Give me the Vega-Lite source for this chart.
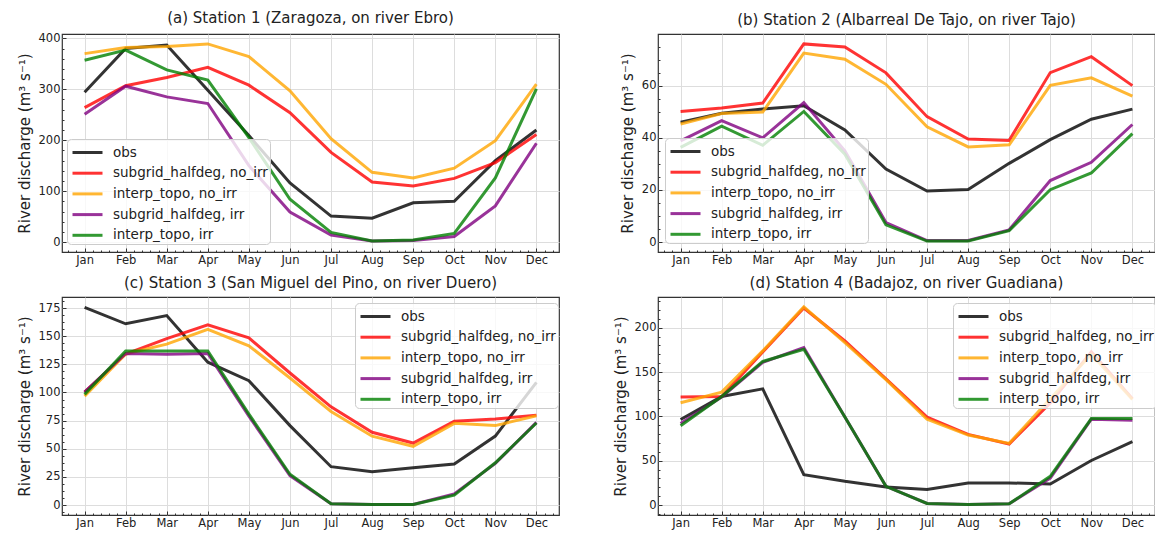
{
"$schema":"https://vega.github.io/schema/vega-lite/v6.json",
"autosize":{"type":"pad"},
"padding":{"left":16,"top":10,"right":0,"bottom":0},
"background":"white",
"datasets":{"d":[
{"station":1,"series":"obs","month":1,"value":294},{"station":1,"series":"obs","month":2,"value":380},{"station":1,"series":"obs","month":3,"value":387},{"station":1,"series":"obs","month":4,"value":298},{"station":1,"series":"obs","month":5,"value":209},{"station":1,"series":"obs","month":6,"value":116},{"station":1,"series":"obs","month":7,"value":51},{"station":1,"series":"obs","month":8,"value":47},{"station":1,"series":"obs","month":9,"value":77},{"station":1,"series":"obs","month":10,"value":80},{"station":1,"series":"obs","month":11,"value":160},{"station":1,"series":"obs","month":12,"value":220},
{"station":1,"series":"subgrid_halfdeg, no_irr","month":1,"value":264},{"station":1,"series":"subgrid_halfdeg, no_irr","month":2,"value":307},{"station":1,"series":"subgrid_halfdeg, no_irr","month":3,"value":323},{"station":1,"series":"subgrid_halfdeg, no_irr","month":4,"value":343},{"station":1,"series":"subgrid_halfdeg, no_irr","month":5,"value":308},{"station":1,"series":"subgrid_halfdeg, no_irr","month":6,"value":254},{"station":1,"series":"subgrid_halfdeg, no_irr","month":7,"value":176},{"station":1,"series":"subgrid_halfdeg, no_irr","month":8,"value":118},{"station":1,"series":"subgrid_halfdeg, no_irr","month":9,"value":110},{"station":1,"series":"subgrid_halfdeg, no_irr","month":10,"value":125},{"station":1,"series":"subgrid_halfdeg, no_irr","month":11,"value":156},{"station":1,"series":"subgrid_halfdeg, no_irr","month":12,"value":211},
{"station":1,"series":"interp_topo, no_irr","month":1,"value":370},{"station":1,"series":"interp_topo, no_irr","month":2,"value":382},{"station":1,"series":"interp_topo, no_irr","month":3,"value":384},{"station":1,"series":"interp_topo, no_irr","month":4,"value":389},{"station":1,"series":"interp_topo, no_irr","month":5,"value":364},{"station":1,"series":"interp_topo, no_irr","month":6,"value":297},{"station":1,"series":"interp_topo, no_irr","month":7,"value":203},{"station":1,"series":"interp_topo, no_irr","month":8,"value":137},{"station":1,"series":"interp_topo, no_irr","month":9,"value":126},{"station":1,"series":"interp_topo, no_irr","month":10,"value":145},{"station":1,"series":"interp_topo, no_irr","month":11,"value":199},{"station":1,"series":"interp_topo, no_irr","month":12,"value":310},
{"station":1,"series":"subgrid_halfdeg, irr","month":1,"value":251},{"station":1,"series":"subgrid_halfdeg, irr","month":2,"value":306},{"station":1,"series":"subgrid_halfdeg, irr","month":3,"value":285},{"station":1,"series":"subgrid_halfdeg, irr","month":4,"value":272},{"station":1,"series":"subgrid_halfdeg, irr","month":5,"value":150},{"station":1,"series":"subgrid_halfdeg, irr","month":6,"value":59},{"station":1,"series":"subgrid_halfdeg, irr","month":7,"value":14},{"station":1,"series":"subgrid_halfdeg, irr","month":8,"value":2},{"station":1,"series":"subgrid_halfdeg, irr","month":9,"value":3},{"station":1,"series":"subgrid_halfdeg, irr","month":10,"value":11},{"station":1,"series":"subgrid_halfdeg, irr","month":11,"value":71},{"station":1,"series":"subgrid_halfdeg, irr","month":12,"value":194},
{"station":1,"series":"interp_topo, irr","month":1,"value":357},{"station":1,"series":"interp_topo, irr","month":2,"value":377},{"station":1,"series":"interp_topo, irr","month":3,"value":338},{"station":1,"series":"interp_topo, irr","month":4,"value":318},{"station":1,"series":"interp_topo, irr","month":5,"value":205},{"station":1,"series":"interp_topo, irr","month":6,"value":84},{"station":1,"series":"interp_topo, irr","month":7,"value":19},{"station":1,"series":"interp_topo, irr","month":8,"value":2},{"station":1,"series":"interp_topo, irr","month":9,"value":4},{"station":1,"series":"interp_topo, irr","month":10,"value":17},{"station":1,"series":"interp_topo, irr","month":11,"value":126},{"station":1,"series":"interp_topo, irr","month":12,"value":301},
{"station":2,"series":"obs","month":1,"value":46},{"station":2,"series":"obs","month":2,"value":49.4},{"station":2,"series":"obs","month":3,"value":51},{"station":2,"series":"obs","month":4,"value":52.3},{"station":2,"series":"obs","month":5,"value":43},{"station":2,"series":"obs","month":6,"value":28},{"station":2,"series":"obs","month":7,"value":19.6},{"station":2,"series":"obs","month":8,"value":20.2},{"station":2,"series":"obs","month":9,"value":30.2},{"station":2,"series":"obs","month":10,"value":39.3},{"station":2,"series":"obs","month":11,"value":47.1},{"station":2,"series":"obs","month":12,"value":51},
{"station":2,"series":"subgrid_halfdeg, no_irr","month":1,"value":50.1},{"station":2,"series":"subgrid_halfdeg, no_irr","month":2,"value":51.4},{"station":2,"series":"subgrid_halfdeg, no_irr","month":3,"value":53.3},{"station":2,"series":"subgrid_halfdeg, no_irr","month":4,"value":76},{"station":2,"series":"subgrid_halfdeg, no_irr","month":5,"value":74.8},{"station":2,"series":"subgrid_halfdeg, no_irr","month":6,"value":64.9},{"station":2,"series":"subgrid_halfdeg, no_irr","month":7,"value":48.1},{"station":2,"series":"subgrid_halfdeg, no_irr","month":8,"value":39.5},{"station":2,"series":"subgrid_halfdeg, no_irr","month":9,"value":39},{"station":2,"series":"subgrid_halfdeg, no_irr","month":10,"value":65},{"station":2,"series":"subgrid_halfdeg, no_irr","month":11,"value":71.1},{"station":2,"series":"subgrid_halfdeg, no_irr","month":12,"value":60},
{"station":2,"series":"interp_topo, no_irr","month":1,"value":45.3},{"station":2,"series":"interp_topo, no_irr","month":2,"value":49.3},{"station":2,"series":"interp_topo, no_irr","month":3,"value":49.9},{"station":2,"series":"interp_topo, no_irr","month":4,"value":72.5},{"station":2,"series":"interp_topo, no_irr","month":5,"value":70.1},{"station":2,"series":"interp_topo, no_irr","month":6,"value":60.5},{"station":2,"series":"interp_topo, no_irr","month":7,"value":44.2},{"station":2,"series":"interp_topo, no_irr","month":8,"value":36.5},{"station":2,"series":"interp_topo, no_irr","month":9,"value":37.3},{"station":2,"series":"interp_topo, no_irr","month":10,"value":60.1},{"station":2,"series":"interp_topo, no_irr","month":11,"value":63},{"station":2,"series":"interp_topo, no_irr","month":12,"value":56},
{"station":2,"series":"subgrid_halfdeg, irr","month":1,"value":38.8},{"station":2,"series":"subgrid_halfdeg, irr","month":2,"value":46.6},{"station":2,"series":"subgrid_halfdeg, irr","month":3,"value":40},{"station":2,"series":"subgrid_halfdeg, irr","month":4,"value":53.5},{"station":2,"series":"subgrid_halfdeg, irr","month":5,"value":35},{"station":2,"series":"subgrid_halfdeg, irr","month":6,"value":7.5},{"station":2,"series":"subgrid_halfdeg, irr","month":7,"value":0.6},{"station":2,"series":"subgrid_halfdeg, irr","month":8,"value":0.6},{"station":2,"series":"subgrid_halfdeg, irr","month":9,"value":4.7},{"station":2,"series":"subgrid_halfdeg, irr","month":10,"value":23.6},{"station":2,"series":"subgrid_halfdeg, irr","month":11,"value":30.6},{"station":2,"series":"subgrid_halfdeg, irr","month":12,"value":45.1},
{"station":2,"series":"interp_topo, irr","month":1,"value":36.3},{"station":2,"series":"interp_topo, irr","month":2,"value":44.5},{"station":2,"series":"interp_topo, irr","month":3,"value":37.1},{"station":2,"series":"interp_topo, irr","month":4,"value":50.1},{"station":2,"series":"interp_topo, irr","month":5,"value":33.7},{"station":2,"series":"interp_topo, irr","month":6,"value":6.6},{"station":2,"series":"interp_topo, irr","month":7,"value":0.4},{"station":2,"series":"interp_topo, irr","month":8,"value":0.4},{"station":2,"series":"interp_topo, irr","month":9,"value":4.4},{"station":2,"series":"interp_topo, irr","month":10,"value":20.1},{"station":2,"series":"interp_topo, irr","month":11,"value":26.5},{"station":2,"series":"interp_topo, irr","month":12,"value":41.6},
{"station":3,"series":"obs","month":1,"value":175.6},{"station":3,"series":"obs","month":2,"value":161},{"station":3,"series":"obs","month":3,"value":168.3},{"station":3,"series":"obs","month":4,"value":126.9},{"station":3,"series":"obs","month":5,"value":110.5},{"station":3,"series":"obs","month":6,"value":70.6},{"station":3,"series":"obs","month":7,"value":34.1},{"station":3,"series":"obs","month":8,"value":29.7},{"station":3,"series":"obs","month":9,"value":33.2},{"station":3,"series":"obs","month":10,"value":36.5},{"station":3,"series":"obs","month":11,"value":61.3},{"station":3,"series":"obs","month":12,"value":109},
{"station":3,"series":"subgrid_halfdeg, no_irr","month":1,"value":100.3},{"station":3,"series":"subgrid_halfdeg, no_irr","month":2,"value":134.2},{"station":3,"series":"subgrid_halfdeg, no_irr","month":3,"value":147.9},{"station":3,"series":"subgrid_halfdeg, no_irr","month":4,"value":160.1},{"station":3,"series":"subgrid_halfdeg, no_irr","month":5,"value":148.5},{"station":3,"series":"subgrid_halfdeg, no_irr","month":6,"value":117.3},{"station":3,"series":"subgrid_halfdeg, no_irr","month":7,"value":87.2},{"station":3,"series":"subgrid_halfdeg, no_irr","month":8,"value":64.7},{"station":3,"series":"subgrid_halfdeg, no_irr","month":9,"value":55.1},{"station":3,"series":"subgrid_halfdeg, no_irr","month":10,"value":74.4},{"station":3,"series":"subgrid_halfdeg, no_irr","month":11,"value":76.4},{"station":3,"series":"subgrid_halfdeg, no_irr","month":12,"value":79.9},
{"station":3,"series":"interp_topo, no_irr","month":1,"value":96.8},{"station":3,"series":"interp_topo, no_irr","month":2,"value":134.2},{"station":3,"series":"interp_topo, no_irr","month":3,"value":142.9},{"station":3,"series":"interp_topo, no_irr","month":4,"value":156},{"station":3,"series":"interp_topo, no_irr","month":5,"value":141.5},{"station":3,"series":"interp_topo, no_irr","month":6,"value":112.9},{"station":3,"series":"interp_topo, no_irr","month":7,"value":83.1},{"station":3,"series":"interp_topo, no_irr","month":8,"value":61.2},{"station":3,"series":"interp_topo, no_irr","month":9,"value":52.2},{"station":3,"series":"interp_topo, no_irr","month":10,"value":72.6},{"station":3,"series":"interp_topo, no_irr","month":11,"value":70.6},{"station":3,"series":"interp_topo, no_irr","month":12,"value":79.3},
{"station":3,"series":"subgrid_halfdeg, irr","month":1,"value":100.3},{"station":3,"series":"subgrid_halfdeg, irr","month":2,"value":134.7},{"station":3,"series":"subgrid_halfdeg, irr","month":3,"value":133.9},{"station":3,"series":"subgrid_halfdeg, irr","month":4,"value":134.7},{"station":3,"series":"subgrid_halfdeg, irr","month":5,"value":79},{"station":3,"series":"subgrid_halfdeg, irr","month":6,"value":26.2},{"station":3,"series":"subgrid_halfdeg, irr","month":7,"value":1.2},{"station":3,"series":"subgrid_halfdeg, irr","month":8,"value":0.6},{"station":3,"series":"subgrid_halfdeg, irr","month":9,"value":0.6},{"station":3,"series":"subgrid_halfdeg, irr","month":10,"value":9.9},{"station":3,"series":"subgrid_halfdeg, irr","month":11,"value":37},{"station":3,"series":"subgrid_halfdeg, irr","month":12,"value":73.5},
{"station":3,"series":"interp_topo, irr","month":1,"value":98.3},{"station":3,"series":"interp_topo, irr","month":2,"value":136.8},{"station":3,"series":"interp_topo, irr","month":3,"value":136.8},{"station":3,"series":"interp_topo, irr","month":4,"value":136.8},{"station":3,"series":"interp_topo, irr","month":5,"value":80.8},{"station":3,"series":"interp_topo, irr","month":6,"value":27.4},{"station":3,"series":"interp_topo, irr","month":7,"value":1.2},{"station":3,"series":"interp_topo, irr","month":8,"value":0.6},{"station":3,"series":"interp_topo, irr","month":9,"value":0.6},{"station":3,"series":"interp_topo, irr","month":10,"value":8.8},{"station":3,"series":"interp_topo, irr","month":11,"value":37.6},{"station":3,"series":"interp_topo, irr","month":12,"value":72.9},
{"station":4,"series":"obs","month":1,"value":96.5},{"station":4,"series":"obs","month":2,"value":122.5},{"station":4,"series":"obs","month":3,"value":131.1},{"station":4,"series":"obs","month":4,"value":34.3},{"station":4,"series":"obs","month":5,"value":26.8},{"station":4,"series":"obs","month":6,"value":20.5},{"station":4,"series":"obs","month":7,"value":17.5},{"station":4,"series":"obs","month":8,"value":25},{"station":4,"series":"obs","month":9,"value":25},{"station":4,"series":"obs","month":10,"value":23.8},{"station":4,"series":"obs","month":11,"value":50.3},{"station":4,"series":"obs","month":12,"value":71.5},
{"station":4,"series":"subgrid_halfdeg, no_irr","month":1,"value":121.8},{"station":4,"series":"subgrid_halfdeg, no_irr","month":2,"value":122.5},{"station":4,"series":"subgrid_halfdeg, no_irr","month":3,"value":172.8},{"station":4,"series":"subgrid_halfdeg, no_irr","month":4,"value":222.3},{"station":4,"series":"subgrid_halfdeg, no_irr","month":5,"value":185.1},{"station":4,"series":"subgrid_halfdeg, no_irr","month":6,"value":142.3},{"station":4,"series":"subgrid_halfdeg, no_irr","month":7,"value":99.1},{"station":4,"series":"subgrid_halfdeg, no_irr","month":8,"value":79.7},{"station":4,"series":"subgrid_halfdeg, no_irr","month":9,"value":68.9},{"station":4,"series":"subgrid_halfdeg, no_irr","month":10,"value":115},{"station":4,"series":"subgrid_halfdeg, no_irr","month":11,"value":172.8},{"station":4,"series":"subgrid_halfdeg, no_irr","month":12,"value":120},
{"station":4,"series":"interp_topo, no_irr","month":1,"value":115.5},{"station":4,"series":"interp_topo, no_irr","month":2,"value":127.4},{"station":4,"series":"interp_topo, no_irr","month":3,"value":173.9},{"station":4,"series":"interp_topo, no_irr","month":4,"value":223.5},{"station":4,"series":"interp_topo, no_irr","month":5,"value":183.2},{"station":4,"series":"interp_topo, no_irr","month":6,"value":141.5},{"station":4,"series":"interp_topo, no_irr","month":7,"value":96.8},{"station":4,"series":"interp_topo, no_irr","month":8,"value":79},{"station":4,"series":"interp_topo, no_irr","month":9,"value":69.6},{"station":4,"series":"interp_topo, no_irr","month":10,"value":120},{"station":4,"series":"interp_topo, no_irr","month":11,"value":170.2},{"station":4,"series":"interp_topo, no_irr","month":12,"value":119},
{"station":4,"series":"subgrid_halfdeg, irr","month":1,"value":92},{"station":4,"series":"subgrid_halfdeg, irr","month":2,"value":121.8},{"station":4,"series":"subgrid_halfdeg, irr","month":3,"value":160.9},{"station":4,"series":"subgrid_halfdeg, irr","month":4,"value":177.7},{"station":4,"series":"subgrid_halfdeg, irr","month":5,"value":99.4},{"station":4,"series":"subgrid_halfdeg, irr","month":6,"value":21.2},{"station":4,"series":"subgrid_halfdeg, irr","month":7,"value":1.9},{"station":4,"series":"subgrid_halfdeg, irr","month":8,"value":0.7},{"station":4,"series":"subgrid_halfdeg, irr","month":9,"value":1.5},{"station":4,"series":"subgrid_halfdeg, irr","month":10,"value":30.5},{"station":4,"series":"subgrid_halfdeg, irr","month":11,"value":96.8},{"station":4,"series":"subgrid_halfdeg, irr","month":12,"value":95.7},
{"station":4,"series":"interp_topo, irr","month":1,"value":89.4},{"station":4,"series":"interp_topo, irr","month":2,"value":122.5},{"station":4,"series":"interp_topo, irr","month":3,"value":162},{"station":4,"series":"interp_topo, irr","month":4,"value":175.8},{"station":4,"series":"interp_topo, irr","month":5,"value":99.4},{"station":4,"series":"interp_topo, irr","month":6,"value":21.2},{"station":4,"series":"interp_topo, irr","month":7,"value":1.9},{"station":4,"series":"interp_topo, irr","month":8,"value":0.7},{"station":4,"series":"interp_topo, irr","month":9,"value":1.5},{"station":4,"series":"interp_topo, irr","month":10,"value":32.4},{"station":4,"series":"interp_topo, irr","month":11,"value":97.6},{"station":4,"series":"interp_topo, irr","month":12,"value":97.6}
]},
"data":{"name":"d"},
"columns":2,
"spacing":{"row":45,"column":99},
"bounds":"flush",
"resolve":{"scale":{"x":"independent","y":"independent","color":"independent"},"legend":{"color":"independent"},"axis":{"x":"independent","y":"independent"}},
"concat":[
 {"width":497,"height":218,"title":"(a) Station 1 (Zaragoza, on river Ebro)","transform":[{"filter":"datum.station == 1"}],
  "layer":[
   {"mark":{"type":"line","strokeWidth":3,"opacity":0.8},
    "encoding":{
     "x":{"field":"month","type":"quantitative","scale":{"domain":[0.45,12.55],"nice":false,"zero":false},"axis":{"values":[1,2,3,4,5,6,7,8,9,10,11,12],"labelExpr":"['Jan','Feb','Mar','Apr','May','Jun','Jul','Aug','Sep','Oct','Nov','Dec'][datum.value-1]","title":null}},
     "y":{"field":"value","type":"quantitative","scale":{"domain":[-19.5,408.5],"nice":false,"zero":false},"axis":{"values":[0,100,200,300,400],"title":"River discharge (m³ s⁻¹)"}},
     "color":{"field":"series","type":"nominal","scale":{"domain":["obs","subgrid_halfdeg, no_irr","interp_topo, no_irr","subgrid_halfdeg, irr","interp_topo, irr"],"range":["#000000","#ff0000","#ffa500","#800080","#008000"]},"legend":{"orient":"none","legendX":5,"legendY":105}}}},
   {"mark":{"type":"line","opacity":0},
    "encoding":{
     "x":{"field":"month","type":"quantitative","axis":{"orient":"bottom","values":[0.6,0.8,1.2,1.4,1.6,1.8,2.2,2.4,2.6,2.8,3.2,3.4,3.6,3.8,4.2,4.4,4.6,4.8,5.2,5.4,5.6,5.8,6.2,6.4,6.6,6.8,7.2,7.4,7.6,7.8,8.2,8.4,8.6,8.8,9.2,9.4,9.6,9.8,10.2,10.4,10.6,10.8,11.2,11.4,11.6,11.8,12.2,12.4],"labels":false,"grid":false,"tickSize":-2,"title":null}},
     "y":{"field":"value","type":"quantitative","axis":{"orient":"left","values":[20,40,60,80,120,140,160,180,220,240,260,280,320,340,360,380],"labels":false,"grid":false,"tickSize":-2,"title":null}}}}
  ],
  "resolve":{"axis":{"x":"independent","y":"independent"}}},
 {"width":497,"height":218,"title":"(b) Station 2 (Albarreal De Tajo, on river Tajo)","transform":[{"filter":"datum.station == 2"}],
  "layer":[
   {"mark":{"type":"line","strokeWidth":3,"opacity":0.8},
    "encoding":{
     "x":{"field":"month","type":"quantitative","scale":{"domain":[0.45,12.55],"nice":false,"zero":false},"axis":{"values":[1,2,3,4,5,6,7,8,9,10,11,12],"labelExpr":"['Jan','Feb','Mar','Apr','May','Jun','Jul','Aug','Sep','Oct','Nov','Dec'][datum.value-1]","title":null}},
     "y":{"field":"value","type":"quantitative","scale":{"domain":[-3.8,79.8],"nice":false,"zero":false},"axis":{"values":[0,20,40,60],"title":"River discharge (m³ s⁻¹)"}},
     "color":{"field":"series","type":"nominal","scale":{"domain":["obs","subgrid_halfdeg, no_irr","interp_topo, no_irr","subgrid_halfdeg, irr","interp_topo, irr"],"range":["#000000","#ff0000","#ffa500","#800080","#008000"]},"legend":{"orient":"none","legendX":7,"legendY":104}}}},
   {"mark":{"type":"line","opacity":0},
    "encoding":{
     "x":{"field":"month","type":"quantitative","axis":{"orient":"bottom","values":[0.6,0.8,1.2,1.4,1.6,1.8,2.2,2.4,2.6,2.8,3.2,3.4,3.6,3.8,4.2,4.4,4.6,4.8,5.2,5.4,5.6,5.8,6.2,6.4,6.6,6.8,7.2,7.4,7.6,7.8,8.2,8.4,8.6,8.8,9.2,9.4,9.6,9.8,10.2,10.4,10.6,10.8,11.2,11.4,11.6,11.8,12.2,12.4],"labels":false,"grid":false,"tickSize":-2,"title":null}},
     "y":{"field":"value","type":"quantitative","axis":{"orient":"left","values":[5,10,15,25,30,35,45,50,55,65,70,75],"labels":false,"grid":false,"tickSize":-2,"title":null}}}}
  ],
  "resolve":{"axis":{"x":"independent","y":"independent"}}},
 {"width":497,"height":218,"title":"(c) Station 3 (San Miguel del Pino, on river Duero)","transform":[{"filter":"datum.station == 3"}],
  "layer":[
   {"mark":{"type":"line","strokeWidth":3,"opacity":0.8},
    "encoding":{
     "x":{"field":"month","type":"quantitative","scale":{"domain":[0.45,12.55],"nice":false,"zero":false},"axis":{"values":[1,2,3,4,5,6,7,8,9,10,11,12],"labelExpr":"['Jan','Feb','Mar','Apr','May','Jun','Jul','Aug','Sep','Oct','Nov','Dec'][datum.value-1]","title":null}},
     "y":{"field":"value","type":"quantitative","scale":{"domain":[-8.8,184.8],"nice":false,"zero":false},"axis":{"values":[0,25,50,75,100,125,150,175],"title":"River discharge (m³ s⁻¹)"}},
     "color":{"field":"series","type":"nominal","scale":{"domain":["obs","subgrid_halfdeg, no_irr","interp_topo, no_irr","subgrid_halfdeg, irr","interp_topo, irr"],"range":["#000000","#ff0000","#ffa500","#800080","#008000"]},"legend":{"orient":"none","legendX":293,"legendY":6}}}},
   {"mark":{"type":"line","opacity":0},
    "encoding":{
     "x":{"field":"month","type":"quantitative","axis":{"orient":"bottom","values":[0.6,0.8,1.2,1.4,1.6,1.8,2.2,2.4,2.6,2.8,3.2,3.4,3.6,3.8,4.2,4.4,4.6,4.8,5.2,5.4,5.6,5.8,6.2,6.4,6.6,6.8,7.2,7.4,7.6,7.8,8.2,8.4,8.6,8.8,9.2,9.4,9.6,9.8,10.2,10.4,10.6,10.8,11.2,11.4,11.6,11.8,12.2,12.4],"labels":false,"grid":false,"tickSize":-2,"title":null}},
     "y":{"field":"value","type":"quantitative","axis":{"orient":"left","values":[-6.25,6.25,12.5,18.75,31.25,37.5,43.75,56.25,62.5,68.75,81.25,87.5,93.75,106.25,112.5,118.75,131.25,137.5,143.75,156.25,162.5,168.75,181.25],"labels":false,"grid":false,"tickSize":-2,"title":null}}}}
  ],
  "resolve":{"axis":{"x":"independent","y":"independent"}}},
 {"width":497,"height":218,"title":"(d) Station 4 (Badajoz, on river Guadiana)","transform":[{"filter":"datum.station == 4"}],
  "layer":[
   {"mark":{"type":"line","strokeWidth":3,"opacity":0.8},
    "encoding":{
     "x":{"field":"month","type":"quantitative","scale":{"domain":[0.45,12.55],"nice":false,"zero":false},"axis":{"values":[1,2,3,4,5,6,7,8,9,10,11,12],"labelExpr":"['Jan','Feb','Mar','Apr','May','Jun','Jul','Aug','Sep','Oct','Nov','Dec'][datum.value-1]","title":null}},
     "y":{"field":"value","type":"quantitative","scale":{"domain":[-11.2,234.7],"nice":false,"zero":false},"axis":{"values":[0,50,100,150,200],"title":"River discharge (m³ s⁻¹)"}},
     "color":{"field":"series","type":"nominal","scale":{"domain":["obs","subgrid_halfdeg, no_irr","interp_topo, no_irr","subgrid_halfdeg, irr","interp_topo, irr"],"range":["#000000","#ff0000","#ffa500","#800080","#008000"]},"legend":{"orient":"none","legendX":295,"legendY":6}}}},
   {"mark":{"type":"line","opacity":0},
    "encoding":{
     "x":{"field":"month","type":"quantitative","axis":{"orient":"bottom","values":[0.6,0.8,1.2,1.4,1.6,1.8,2.2,2.4,2.6,2.8,3.2,3.4,3.6,3.8,4.2,4.4,4.6,4.8,5.2,5.4,5.6,5.8,6.2,6.4,6.6,6.8,7.2,7.4,7.6,7.8,8.2,8.4,8.6,8.8,9.2,9.4,9.6,9.8,10.2,10.4,10.6,10.8,11.2,11.4,11.6,11.8,12.2,12.4],"labels":false,"grid":false,"tickSize":-2,"title":null}},
     "y":{"field":"value","type":"quantitative","axis":{"orient":"left","values":[-10,10,20,30,40,60,70,80,90,110,120,130,140,160,170,180,190,210,220,230],"labels":false,"grid":false,"tickSize":-2,"title":null}}}}
  ],
  "resolve":{"axis":{"x":"independent","y":"independent"}}}
],
"config":{
 "font":"DejaVu Sans",
 "view":{"stroke":"#333333","strokeWidth":1.2},
 "axis":{"labelFont":"DejaVu Sans","labelFontSize":11.5,"labelColor":"#222222","titleFont":"DejaVu Sans","titleFontSize":15,"titleFontWeight":"normal","titleColor":"#222222","titlePadding":6,"gridColor":"#dddddd","gridWidth":1,"domain":false,"tickColor":"#333333","tickSize":-4,"tickWidth":1,"labelPadding":6},
 "title":{"font":"DejaVu Sans","fontSize":15,"fontWeight":"normal","offset":6,"color":"#222222"},
 "legend":{"title":null,"labelFont":"DejaVu Sans","labelFontSize":13.5,"labelColor":"#222222","symbolType":"M-0.8,0H2.2","symbolSize":400,"symbolStrokeWidth":3,"symbolOpacity":0.8,"rowPadding":2.7,"labelOffset":21,"padding":2,"fillColor":"rgba(255,255,255,0.8)","strokeColor":"#cccccc","cornerRadius":4}
}
}
